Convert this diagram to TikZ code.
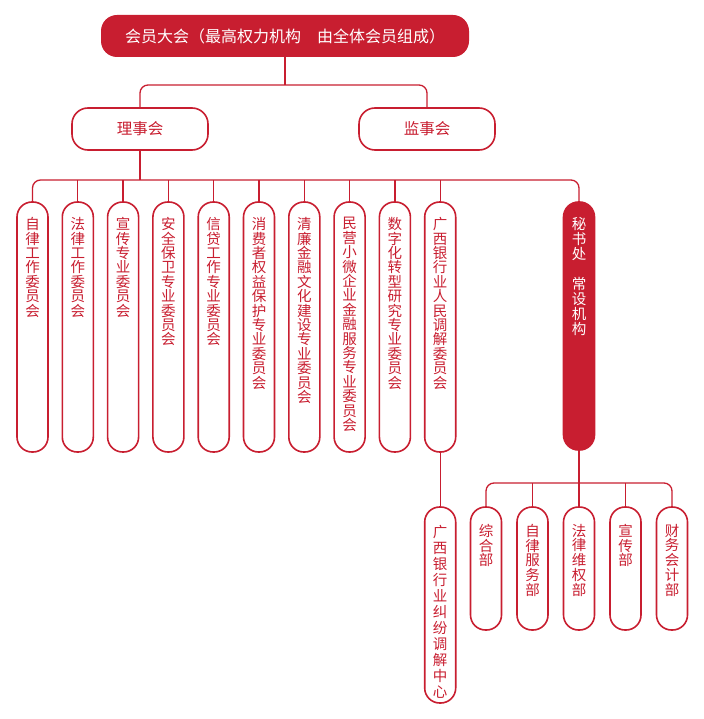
\documentclass[tikz,border=0pt]{standalone}
\usepackage{fontspec}
\newfontfamily\cjk{Noto Sans CJK SC}
\usetikzlibrary{positioning}
\XeTeXlinebreaklocale "zh"
\XeTeXlinebreakskip=0pt plus 1pt
\definecolor{hongse}{RGB}{200,30,48}
% vertical text: one character per line, starting near the top
\newcommand{\shu}[3][15.5pt]{\parbox[c][#2][t]{18pt}{\centering\vspace*{#1}#3}}

\begin{document}
\begin{tikzpicture}[
        x=1pt, y=1pt,
        node distance=12.7pt,
        every node/.style={font=\cjk},
        dahui/.style={rectangle, fill=hongse, text=white, minimum width=368pt, minimum height=42pt, rounded corners=16pt, font=\cjk\fontsize{16}{18}\selectfont},
        jiguan/.style={rectangle, draw=hongse, line width=1.6pt, text=hongse, minimum width=136pt, minimum height=42pt, rounded corners=16pt, font=\cjk\fontsize{15.5}{18}\selectfont},
        weiyuan/.style={rectangle, draw=hongse, line width=1.6pt, text=hongse, minimum width=31pt, inner sep=0pt, rounded corners=15pt, font=\cjk\fontsize{14.5}{14.4}\selectfont},
        mishu/.style={weiyuan, fill=hongse, text=white},
        conn/.style={draw=hongse, line width=1.3pt}
    ]
        \useasboundingbox (0,0) rectangle (703,-719);

        % Nodes
        \node[dahui] (dahui) at (285,-36) {会员大会（最高权力机构　由全体会员组成）};
        \node[jiguan] (lishi) at (140,-129) {理事会};
        \node[jiguan] (jianshi) at (427,-129) {监事会};

        \node[weiyuan] (w1) at (32.5,-327) {\shu{250pt}{自律工作委员会}};
        \node[weiyuan, right=of w1] (w2) {\shu{250pt}{法律工作委员会}};
        \node[weiyuan, right=of w2] (w3) {\shu{250pt}{宣传专业委员会}};
        \node[weiyuan, right=of w3] (w4) {\shu{250pt}{安全保卫专业委员会}};
        \node[weiyuan, right=of w4] (w5) {\shu{250pt}{信贷工作专业委员会}};
        \node[weiyuan, right=of w5] (w6) {\shu{250pt}{消费者权益保护专业委员会}};
        \node[weiyuan, right=of w6] (w7) {\shu{250pt}{清廉金融文化建设专业委员会}};
        \node[weiyuan, right=of w7] (w8) {\shu{250pt}{民营小微企业金融服务专业委员会}};
        \node[weiyuan, right=of w8] (w9) {\shu{250pt}{数字化转型研究专业委员会}};
        \node[weiyuan, right=of w9] (w10) {\shu{250pt}{广西银行业人民调解委员会}};
        \node[mishu, font=\cjk\fontsize{14.5}{15}\selectfont] (mishu) at (579,-326) {\shu{248pt}{秘书处\\[15pt]常设机构}};

        \node[weiyuan, below=53.4pt of w10, font=\cjk\fontsize{14.5}{16}\selectfont] (jiufen) {\shu[18pt]{196pt}{广西银行业纠纷调解中心}};

        \node[weiyuan, font=\cjk\fontsize{14.5}{14.8}\selectfont] (b1) at (486,-568.5) {\shu[17pt]{123pt}{综合部}};
        \node[weiyuan, right=13.9pt of b1, font=\cjk\fontsize{14.5}{14.8}\selectfont] (b2) {\shu[17pt]{123pt}{自律服务部}};
        \node[weiyuan, right=13.9pt of b2, font=\cjk\fontsize{14.5}{14.8}\selectfont] (b3) {\shu[17pt]{123pt}{法律维权部}};
        \node[weiyuan, right=13.9pt of b3, font=\cjk\fontsize{14.5}{14.8}\selectfont] (b4) {\shu[17pt]{123pt}{宣传部}};
        \node[weiyuan, right=13.9pt of b4, font=\cjk\fontsize{14.5}{14.8}\selectfont] (b5) {\shu[17pt]{123pt}{财务会计部}};

        \coordinate (zong1) at (0,-85);
        \coordinate (zong2) at (0,-180);
        \coordinate (zong3) at (0,-483);

        % Connectors
        \draw[conn] (dahui.south) -- (dahui.south |- zong1);
        \draw[conn, rounded corners=8pt] (lishi.north) -- (lishi.north |- zong1) -- (jianshi.north |- zong1) -- (jianshi.north);
        \draw[conn] (lishi.south) -- (lishi.south |- zong2);
        \draw[conn, rounded corners=8pt] (w1.north) -- (w1.north |- zong2) -- (mishu.north |- zong2) -- (mishu.north);
        \foreach \i in {2,...,10}
            \draw[conn] (w\i.north) -- (w\i.north |- zong2);
        \draw[conn] (w10.south) -- (jiufen.north);
        \draw[conn] (mishu.south) -- (mishu.south |- zong3);
        \draw[conn, rounded corners=8pt] (b1.north) -- (b1.north |- zong3) -- (b5.north |- zong3) -- (b5.north);
        \foreach \i in {2,3,4}
            \draw[conn] (b\i.north) -- (b\i.north |- zong3);
    \end{tikzpicture}
\end{document}
